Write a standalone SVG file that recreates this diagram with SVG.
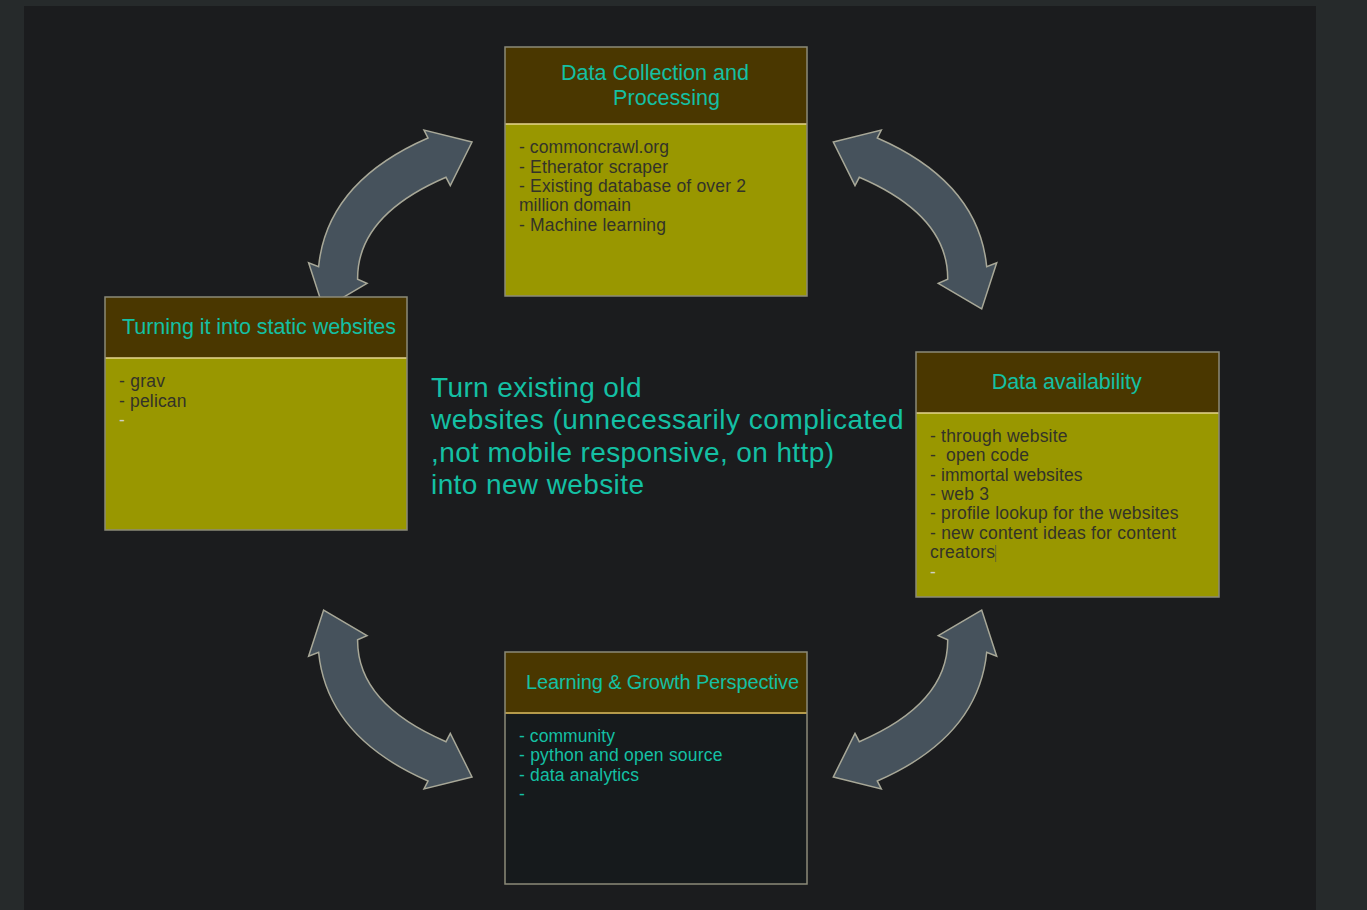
<svg xmlns="http://www.w3.org/2000/svg" width="1367" height="910" viewBox="0 0 1367 910">
<style>
  .frame{fill:none;stroke:#8c8a78;stroke-width:1.5}
  .hdr{fill:#4a3700}
  .body{fill:#999700}
  .dark{fill:#161a1c}
  .div{stroke:#e6d68e;stroke-width:1.5}
  .divd{stroke:#b59a4a;stroke-width:2}
  text{font-family:"Liberation Sans",Arial,sans-serif}
  .ht{font-size:21.5px;fill:#14c0a4}
  .bt{font-size:17.5px;fill:#333328}
  .tt{font-size:17.5px;fill:#14c0a4}
  .dash{fill:#d0d0c8}
  .ct{font-size:28px;fill:#14c0a4}
  .arr{fill:#46525c;stroke:#a8a898;stroke-width:1.5;stroke-linejoin:miter}
</style>
<defs>
  <path id="carrow" class="arr" d="M472,142 L424,130 L428,138 Q327,182 318.6,266.7 L308.6,262.7 L323.6,309 L367,283.3 L357.6,279.3 Q357,215.5 446,177.3 L450.3,185.7 Z"/>
</defs>
<rect x="0" y="0" width="1367" height="910" fill="#262a2b"/>
<rect x="24" y="6" width="1292" height="904" fill="#1b1c1e"/>

<g id="connectors">
  <use href="#carrow"/>
  <use href="#carrow" transform="translate(1305.3,0) scale(-1,1)"/>
  <use href="#carrow" transform="translate(0,919) scale(1,-1)"/>
  <use href="#carrow" transform="translate(1305.3,919) scale(-1,-1)"/>
</g>

<g id="node-data-collection">
  <rect class="hdr" x="505" y="47" width="302" height="77"/>
  <rect class="body" x="505" y="124" width="302" height="172"/>
  <line class="div" x1="505" y1="124" x2="807" y2="124"/>
  <rect class="frame" x="505" y="47" width="302" height="249"/>
  <text class="ht" x="561" y="80" textLength="188" lengthAdjust="spacing">Data Collection and</text>
  <text class="ht" x="613" y="105" textLength="107" lengthAdjust="spacing">Processing</text>
  <text class="bt" x="519" y="153.3" textLength="150" lengthAdjust="spacing">- commoncrawl.org</text>
  <text class="bt" x="519" y="172.6" textLength="149" lengthAdjust="spacing">- Etherator scraper</text>
  <text class="bt" x="519" y="191.9" textLength="227" lengthAdjust="spacing">- Existing database of over 2</text>
  <text class="bt" x="519" y="211.2" textLength="112" lengthAdjust="spacing">million domain</text>
  <text class="bt" x="519" y="230.5" textLength="147" lengthAdjust="spacing">- Machine learning</text>
</g>

<g id="node-static-websites">
  <rect class="hdr" x="105" y="297" width="302" height="61"/>
  <rect class="body" x="105" y="358" width="302" height="172"/>
  <line class="div" x1="105" y1="358" x2="407" y2="358"/>
  <rect class="frame" x="105" y="297" width="302" height="233"/>
  <text class="ht" x="122" y="334.3" textLength="274" lengthAdjust="spacing">Turning it into static websites</text>
  <text class="bt" x="119" y="387.3" textLength="46" lengthAdjust="spacing">- grav</text>
  <text class="bt" x="119" y="406.6" textLength="67.5" lengthAdjust="spacing">- pelican</text>
  <text class="bt dash" x="119" y="426">-</text>
</g>

<g id="node-data-availability">
  <rect class="hdr" x="916" y="352" width="303" height="61"/>
  <rect class="body" x="916" y="413" width="303" height="184"/>
  <line class="div" x1="916" y1="413" x2="1219" y2="413"/>
  <rect class="frame" x="916" y="352" width="303" height="245"/>
  <text class="ht" x="991.7" y="389.3" textLength="150" lengthAdjust="spacing">Data availability</text>
  <text class="bt" x="930" y="441.7" textLength="137.5" lengthAdjust="spacing">- through website</text>
  <text class="bt" x="930" y="461" xml:space="preserve" textLength="99" lengthAdjust="spacing">-  open code</text>
  <text class="bt" x="930" y="480.5" textLength="152.5" lengthAdjust="spacing">- immortal websites</text>
  <text class="bt" x="930" y="500" textLength="59" lengthAdjust="spacing">- web 3</text>
  <text class="bt" x="930" y="519.3" textLength="248.5" lengthAdjust="spacing">- profile lookup for the websites</text>
  <text class="bt" x="930" y="538.8" textLength="246" lengthAdjust="spacing">- new content ideas for content</text>
  <text class="bt" x="930" y="558.2" textLength="65" lengthAdjust="spacing">creators</text>
  <line x1="995.7" y1="545" x2="995.7" y2="562" stroke="#55553a" stroke-width="0.8"/>
  <text class="bt dash" x="930" y="577.5">-</text>
</g>

<g id="node-learning-growth">
  <rect class="hdr" x="505" y="652" width="302" height="61"/>
  <rect class="dark" x="505" y="713" width="302" height="171"/>
  <line class="divd" x1="505" y1="713" x2="807" y2="713"/>
  <rect class="frame" x="505" y="652" width="302" height="232"/>
  <text class="ht" x="526" y="689.3" style="font-size:20px" textLength="273" lengthAdjust="spacing">Learning &amp; Growth Perspective</text>
  <text class="tt" x="519" y="741.7" textLength="96" lengthAdjust="spacing">- community</text>
  <text class="tt" x="519" y="761" textLength="203.5" lengthAdjust="spacing">- python and open source</text>
  <text class="tt" x="519" y="780.5" textLength="120" lengthAdjust="spacing">- data analytics</text>
  <text class="tt" x="519" y="800">-</text>
</g>

<g id="center-text">
  <text class="ct" x="431" y="396.7" textLength="210.5" lengthAdjust="spacing">Turn existing old</text>
  <text class="ct" x="431" y="429" textLength="472.5" lengthAdjust="spacing">websites (unnecessarily complicated</text>
  <text class="ct" x="431" y="461.5" textLength="403" lengthAdjust="spacing">,not mobile responsive, on http)</text>
  <text class="ct" x="431" y="494" textLength="213" lengthAdjust="spacing">into new website</text>
</g>
</svg>
